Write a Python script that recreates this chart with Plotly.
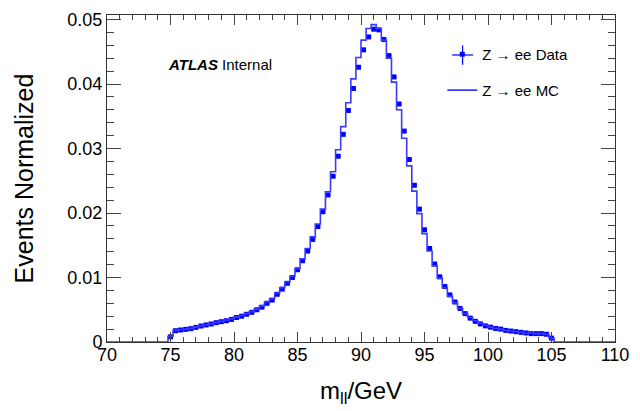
import numpy as np
import plotly.graph_objects as go

# ---- data ----
x_min, x_max = 70.0, 110.0
bin_width = 0.4
first_filled_center = 75.0  # centre of first non-empty bin

data_values = [
    0.0008, 0.00175, 0.00186, 0.00196, 0.00207, 0.00227, 0.00248, 0.00264, 0.00279, 0.00300,
    0.00315, 0.0033, 0.0035, 0.0038, 0.0040, 0.0043, 0.0046, 0.0050, 0.0054, 0.0060,
    0.0065, 0.0074, 0.0082, 0.0091, 0.0100, 0.0112, 0.0126, 0.0141, 0.0159, 0.0179,
    0.0202, 0.0228, 0.0257, 0.0288, 0.0322, 0.0359, 0.0393, 0.0426, 0.0453, 0.0473,
    0.0485, 0.0484, 0.0469, 0.0444, 0.0411, 0.0369, 0.0327, 0.0283, 0.0243, 0.0206,
    0.0174, 0.0145, 0.0121, 0.0101, 0.0086, 0.0073, 0.0062, 0.0052, 0.0044, 0.0037,
    0.0032, 0.0028, 0.0025, 0.0023, 0.0021, 0.0020, 0.0018, 0.0017, 0.0016, 0.0015,
    0.0014, 0.0013, 0.0013, 0.0013, 0.0012, 0.0006,
]

mc_values = [
    0.0009, 0.00180, 0.00190, 0.00200, 0.00212, 0.00230, 0.00250, 0.00268, 0.00284, 0.00305,
    0.00320, 0.0034, 0.0036, 0.0039, 0.0041, 0.0044, 0.0047, 0.0051, 0.0056, 0.0062,
    0.0067, 0.0076, 0.0084, 0.0093, 0.0102, 0.0114, 0.0129, 0.0145, 0.0163, 0.0183,
    0.0206, 0.0233, 0.0264, 0.0298, 0.0334, 0.0371, 0.0408, 0.0441, 0.0468, 0.0486,
    0.0492, 0.0486, 0.0468, 0.0440, 0.0403, 0.0360, 0.0316, 0.0273, 0.0234, 0.0199,
    0.0168, 0.0141, 0.0118, 0.0099, 0.0084, 0.0071, 0.0061, 0.0052, 0.0044, 0.0038,
    0.0033, 0.0029, 0.0026, 0.0023, 0.0021, 0.0020, 0.0018, 0.0017, 0.0016, 0.0015,
    0.0014, 0.0014, 0.0013, 0.0013, 0.0012, 0.0006,
]

x_ticks = [70, 75, 80, 85, 90, 95, 100, 105, 110]
legend_data = "Z \u2192 ee Data"
legend_mc = "Z \u2192 ee MC"

# ---- derived binning ----
n_bins = int(round((x_max - x_min) / bin_width))
edges = x_min + bin_width * np.arange(n_bins + 1)
centers = 0.5 * (edges[:-1] + edges[1:])
first_idx = int(round((first_filled_center - bin_width / 2 - x_min) / bin_width))
mc_full = np.zeros(n_bins)
mc_full[first_idx:first_idx + len(mc_values)] = mc_values
data_x = centers[first_idx:first_idx + len(data_values)]

step_x = np.append(edges[:-1], edges[-1])
step_y = np.append(mc_full, mc_full[-1])

FONT = "Liberation Sans, Arial, Helvetica, sans-serif"
BLUE = "#0000ff"
MCBLUE = "#3a3aff"

fig = go.Figure()
fig.add_trace(go.Scatter(
    x=data_x, y=data_values, mode="markers", name=legend_data,
    marker=dict(symbol="square", size=5, color=BLUE),
    error_x=dict(type="constant", value=bin_width / 2, color=BLUE, thickness=1, width=0),
    legend="legend",
))
fig.add_trace(go.Scatter(
    x=step_x, y=step_y, mode="lines", name=legend_mc,
    line=dict(shape="hv", color=MCBLUE, width=1.6),
    legend="legend2",
))

axis_common = dict(
    showline=True, linecolor="#333333", linewidth=1, mirror="allticks",
    ticks="inside", tickcolor="#444444", showgrid=False, zeroline=False,
    tickfont=dict(family=FONT, size=18, color="black"),
)

fig.update_xaxes(
    range=[x_min, x_max], tickvals=x_ticks, ticklen=10, ticklabelstandoff=-4,
    minor=dict(dtick=1, ticklen=5, ticks="inside", tickcolor="#444444"),
    title=dict(text="m<sub>ll</sub>/GeV", font=dict(family=FONT, size=24, color="black"), standoff=18),
    automargin=False, **axis_common,
)
fig.update_yaxes(
    range=[0, 0.0507], dtick=0.01, ticklen=14,
    minor=dict(dtick=0.002, ticklen=7, ticks="inside", tickcolor="#444444"),
    title=dict(text="Events Normalized", font=dict(family=FONT, size=25, color="black"), standoff=26),
    automargin=False, **axis_common,
)

fig.add_annotation(
    xref="paper", yref="paper", x=0.116, y=0.85, xanchor="left", yanchor="middle",
    text="<b><i>ATLAS</i></b> Internal", showarrow=False,
    font=dict(family=FONT, size=15, color="black"),
)

# error-bar cross of the data legend glyph
glyph_x, glyph_y = 0.700, 0.8777
fig.add_shape(type="line", xref="paper", yref="paper",
              x0=glyph_x - 0.0207, x1=glyph_x + 0.0207, y0=glyph_y, y1=glyph_y,
              line=dict(color=BLUE, width=1.2))
fig.add_shape(type="line", xref="paper", yref="paper",
              x0=glyph_x, x1=glyph_x, y0=glyph_y - 0.03, y1=glyph_y + 0.029,
              line=dict(color=BLUE, width=1.2))

legend_common = dict(
    xanchor="left", yanchor="top", bgcolor="rgba(0,0,0,0)",
    font=dict(family=FONT, size=15, color="black"), itemwidth=30,
)
fig.update_layout(
    width=640, height=411,
    margin=dict(l=107, r=25, t=15, b=69),
    paper_bgcolor="white", plot_bgcolor="white",
    legend=dict(x=0.66, y=0.93, **legend_common),
    legend2=dict(x=0.66, y=0.82, **legend_common),
    showlegend=True,
)

fig.write_html("out.html")
